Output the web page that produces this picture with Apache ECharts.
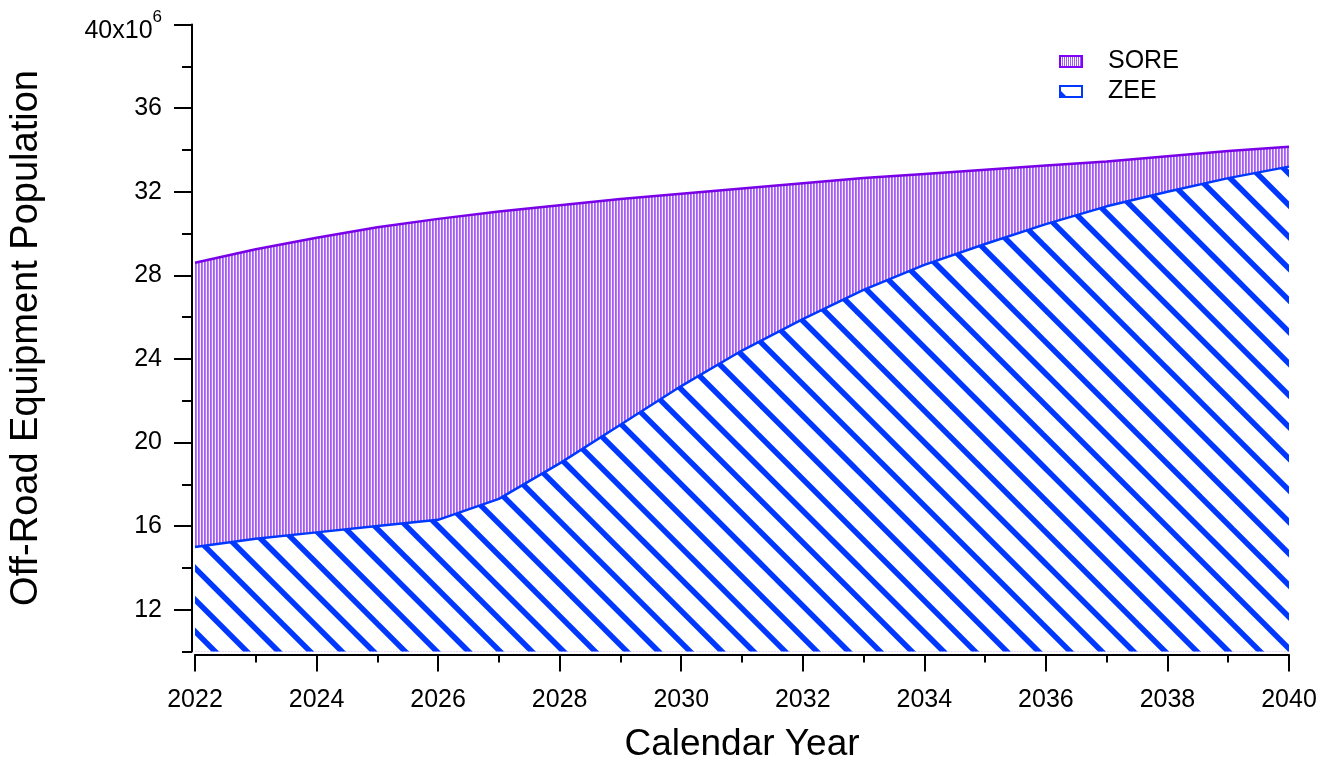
<!DOCTYPE html>
<html>
<head>
<meta charset="utf-8">
<style>
  html, body { margin: 0; padding: 0; background: #fff; }
  #chart { width: 1331px; height: 761px; }
</style>
<script src="https://cdn.jsdelivr.net/npm/echarts@6/dist/echarts.min.js"></script>
</head>
<body>
<div id="chart"></div>
<script>
// calendar years on the x axis
const years = [2022, 2023, 2024, 2025, 2026, 2027, 2028, 2029, 2030, 2031,
  2032, 2033, 2034, 2035, 2036, 2037, 2038, 2039, 2040];

// population in millions, ZEE at the bottom of the stack
const zeeValues = [15.0, 15.4, 15.7, 16.0, 16.3, 17.3, 19.0, 20.85, 22.7, 24.4,
  25.9, 27.3, 28.5, 29.5, 30.45, 31.3, 32.0, 32.65, 33.2];

// top of the stack (ZEE + SORE), i.e. the upper edge of the SORE band
const totalValues = [28.6, 29.25, 29.8, 30.3, 30.7, 31.05, 31.35, 31.65, 31.9, 32.15,
  32.4, 32.65, 32.85, 33.05, 33.25, 33.45, 33.7, 33.95, 34.15];

const yMajorTicks = [12, 16, 20, 24, 28, 32, 36, 40];

const FONT = 'Liberation Sans';
const BLUE = '#0038ff';
const PURPLE = '#7a00e8';

// blue diagonal hatching for ZEE (three stripes per 95px tile)
const stripeTile = () => {
  const size = 95;
  const c = document.createElement('canvas');
  c.width = size;
  c.height = size;
  const ctx = c.getContext('2d');
  ctx.fillStyle = '#fff';
  ctx.fillRect(0, 0, size, size);
  ctx.strokeStyle = BLUE;
  ctx.lineWidth = 5.5;
  const period = size / 3;
  const phase = 7;
  for (let k = -4; k <= 4; k++) {
    const x0 = phase + k * period;
    ctx.beginPath();
    ctx.moveTo(x0 - 10, -10);
    ctx.lineTo(x0 + size + 10, size + 10);
    ctx.stroke();
  }
  return c;
};

// fine vertical purple lines for SORE
const verticalTile = () => {
  const c = document.createElement('canvas');
  c.width = 3;
  c.height = 3;
  const ctx = c.getContext('2d');
  ctx.fillStyle = '#f6efff';
  ctx.fillRect(0, 0, 3, 3);
  ctx.fillStyle = '#a35cf2';
  ctx.fillRect(0, 0, 1, 3);
  ctx.fillStyle = '#b67bf5';
  ctx.fillRect(1, 0, 1, 3);
  return c;
};

const soreIcon = () => {
  const c = document.createElement('canvas');
  c.width = 24;
  c.height = 13;
  const ctx = c.getContext('2d');
  ctx.fillStyle = '#fff';
  ctx.fillRect(0, 0, 24, 13);
  ctx.fillStyle = '#a35cf2';
  for (let x = 3; x < 22; x += 2) ctx.fillRect(x, 2, 1, 9);
  ctx.strokeStyle = '#8000ff';
  ctx.lineWidth = 2;
  ctx.strokeRect(1, 1, 22, 11);
  return 'image://' + c.toDataURL();
};

const zeeIcon = () => {
  const c = document.createElement('canvas');
  c.width = 24;
  c.height = 13;
  const ctx = c.getContext('2d');
  ctx.fillStyle = '#fff';
  ctx.fillRect(0, 0, 24, 13);
  ctx.fillStyle = BLUE;
  ctx.beginPath();
  ctx.moveTo(2, 6);
  ctx.lineTo(2, 12);
  ctx.lineTo(8, 12);
  ctx.closePath();
  ctx.fill();
  ctx.strokeStyle = BLUE;
  ctx.lineWidth = 2;
  ctx.strokeRect(1, 1, 22, 11);
  return 'image://' + c.toDataURL();
};

const pairs = (vals) => years.map((y, i) => [y, vals[i]]);

const chart = echarts.init(document.getElementById('chart'));

const option = {
  animation: false,
  backgroundColor: '#fff',
  textStyle: { fontFamily: FONT, color: '#000' },
  grid: { left: 195, right: 42, top: 24.5, bottom: 109.5, outerBoundsMode: 'none' },
  legend: {
    orient: 'vertical',
    left: 1059,
    top: 49,
    padding: 0,
    itemGap: 5,
    itemWidth: 24,
    itemHeight: 13,
    selectedMode: false,
    textStyle: { fontFamily: FONT, fontSize: 25, color: '#000', padding: [0, 0, 0, 20] },
    data: [
      { name: 'SORE', icon: soreIcon() },
      { name: 'ZEE', icon: zeeIcon() },
    ],
  },
  xAxis: {
    type: 'value',
    min: 2022,
    max: 2040,
    interval: 2,
    offset: 3,
    name: 'Calendar Year',
    nameLocation: 'middle',
    nameGap: 72,
    nameTextStyle: { fontFamily: FONT, fontSize: 37, color: '#000' },
    axisLine: { lineStyle: { color: '#000', width: 2 } },
    axisTick: { length: 17, lineStyle: { color: '#000', width: 2 } },
    minorTick: { show: true, splitNumber: 2, length: 8, lineStyle: { color: '#000', width: 2 } },
    axisLabel: { fontFamily: FONT, fontSize: 25, color: '#000', margin: 33, formatter: (v) => String(v) },
    splitLine: { show: false },
  },
  yAxis: [
    {
      type: 'value',
      min: 10,
      max: 40,
      interval: 2,
      offset: 3,
      name: 'Off-Road Equipment Population',
      nameLocation: 'middle',
      nameGap: 146,
      nameTextStyle: { fontFamily: FONT, fontSize: 38, color: '#000' },
      axisLine: { show: true, lineStyle: { color: '#000', width: 2 } },
      axisTick: { length: 10, lineStyle: { color: '#000', width: 2 } },
      axisLabel: { show: false },
      splitLine: { show: false },
    },
    {
      type: 'value',
      min: 10,
      max: 40,
      interval: 2,
      offset: 3,
      position: 'left',
      axisLine: { show: false },
      axisTick: { customValues: yMajorTicks, length: 18, lineStyle: { color: '#000', width: 2 } },
      axisLabel: {
        customValues: yMajorTicks,
        fontFamily: FONT,
        fontSize: 25,
        color: '#000',
        margin: 30,
        formatter: (v) => (v === 40 ? '{b|40x10}{s|6}' : String(v)),
        rich: {
          b: { fontFamily: FONT, fontSize: 25, lineHeight: 25, color: '#000', padding: [14, 0, 0, 0] },
          s: { fontFamily: FONT, fontSize: 17, lineHeight: 17, color: '#000', padding: [0, 0, 14, 0] },
        },
      },
      splitLine: { show: false },
    },
  ],
  series: [
    {
      name: 'SORE',
      type: 'line',
      z: 2,
      symbol: 'none',
      data: pairs(totalValues),
      lineStyle: { color: PURPLE, width: 2.5 },
      itemStyle: { color: PURPLE },
      areaStyle: { color: { image: verticalTile(), repeat: 'repeat' }, opacity: 1 },
    },
    {
      name: 'ZEE',
      type: 'line',
      z: 3,
      symbol: 'none',
      data: pairs(zeeValues),
      lineStyle: { color: BLUE, width: 2.5 },
      itemStyle: { color: BLUE },
      areaStyle: { color: { image: stripeTile(), repeat: 'repeat' }, opacity: 1 },
    },
  ],
};

chart.setOption(option);
</script>
</body>
</html>
